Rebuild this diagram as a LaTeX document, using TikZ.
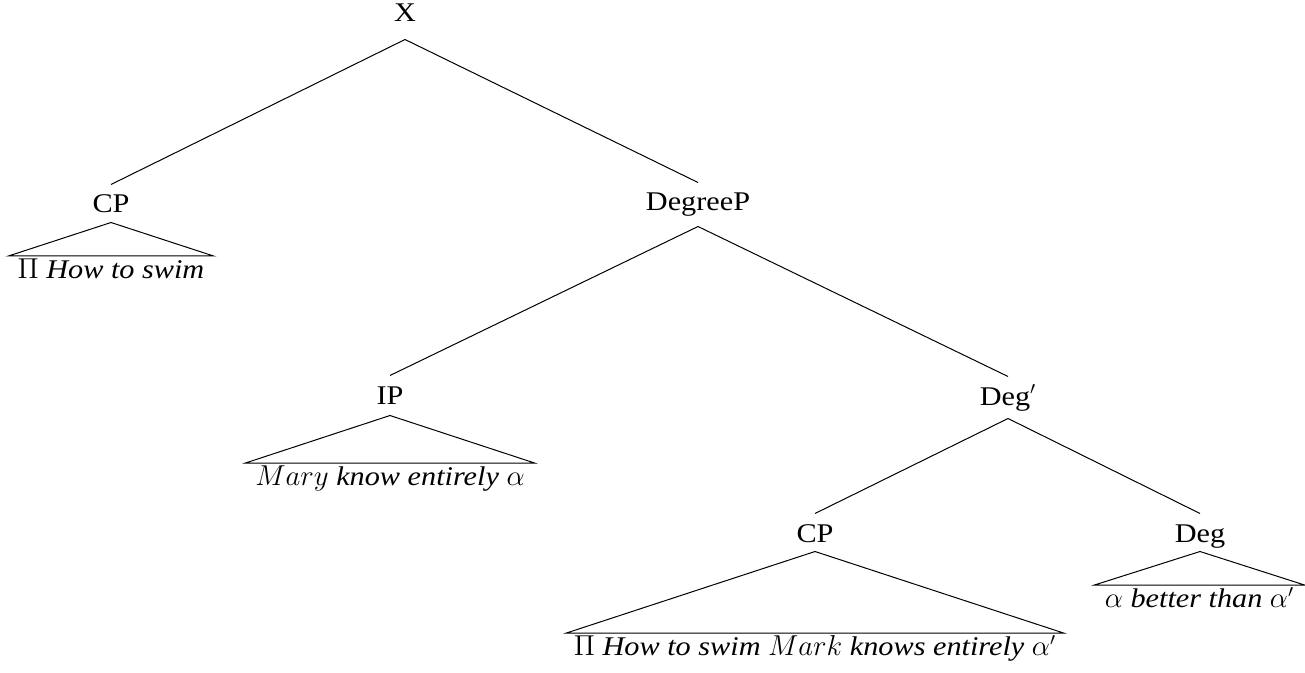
\documentclass[tikz,border=0pt]{standalone}
\usepackage{fontspec}
\setmainfont{Liberation Serif}[FakeStretch=1.12]
\begin{document}
\begin{tikzpicture}[x=0.5pt,y=-0.5pt,line width=0.5pt,
  every node/.style={font=\fontsize{13.5}{16}\selectfont},
  cat/.style={anchor=base,inner xsep=0pt,inner ysep=4pt,text height=10pt,text depth=#1},
  cat/.default=0.5pt,
  leaf/.style={anchor=north,inner xsep=0pt,inner ysep=2pt,text height=9pt,text depth=2pt,minimum width=#1}]
\useasboundingbox (0,0) rectangle (1305,673);

% category labels
\node[cat=4.5pt] (X)    at (405,22)   {X};
\node[cat]       (CPa)  at (111,213)  {CP};
\node[cat=3.5pt] (DegP) at (698,211)  {DegreeP};
\node[cat=1.5pt] (IP)   at (390,404)  {IP};
\node[cat=2.5pt] (Degb) at (1008,405) {Deg$'$};
\node[cat]       (CPb)  at (815,542)  {CP};
\node[cat]       (Deg)  at (1200,542) {Deg};

% branches
\draw (X.south) -- (CPa.north);
\draw (X.south) -- (DegP.north);
\draw (DegP.south) -- (IP.north);
\draw (DegP.south) -- (Degb.north);
\draw (Degb.south) -- (CPb.north);
\draw (Degb.south) -- (Deg.north);

% terminal strings under triangles
\node[leaf=102pt]   (La) at (111,256)    {$\Pi$ \textit{How to swim}};
\node[leaf=144pt]   (Lb) at (390,463)    {$Mary$ \textit{know entirely} $\alpha$};
\node[leaf=248pt]   (Lc) at (815,633)    {$\Pi$ \textit{How to swim} $Mark$ \textit{knows entirely} $\alpha'$};
\node[leaf=104.5pt] (Ld) at (1199.5,585) {$\alpha$ \textit{better than} $\alpha'$};

\draw (CPa.south) -- (La.north west) -- (La.north east) -- cycle;
\draw (IP.south)  -- (Lb.north west) -- (Lb.north east) -- cycle;
\draw (CPb.south) -- (Lc.north west) -- (Lc.north east) -- cycle;
\draw (Deg.south) -- (Ld.north west) -- (Ld.north east) -- cycle;
\end{tikzpicture}
\end{document}
